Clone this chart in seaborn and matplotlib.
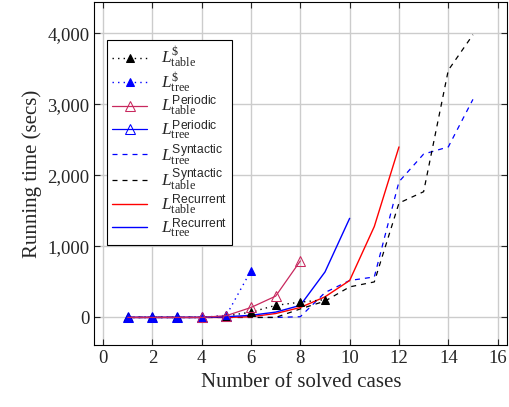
import matplotlib
matplotlib.use('Agg')
import matplotlib.pyplot as plt
import matplotlib.ticker as mticker
import seaborn as sns

# data
x_dollar_table = [1, 2, 3, 4, 5, 6, 7, 8, 9]
y_dollar_table = [0, 0, 0, 0, 20, 75, 170, 215, 250]

x_dollar_tree = [1, 2, 3, 4, 5, 6]
y_dollar_tree = [0, 0, 0, 0, 30, 660]

x_per_table = [1, 2, 3, 4, 5, 6, 7, 8]
y_per_table = [0, 0, 0, 0, 25, 140, 300, 795]

x_per_tree = [1, 2, 3, 4, 5]
y_per_tree = [0, 0, 0, 0, 15]

x_syn_tree = [1, 2, 3, 4, 5, 6, 7, 8, 9, 10, 11, 12, 13, 14, 15]
y_syn_tree = [0, 0, 0, 0, 0, 0, 0, 10, 350, 520, 570, 1910, 2300, 2400, 3070]

x_syn_table = [1, 2, 3, 4, 5, 6, 7, 8, 9, 10, 11, 12, 13, 14, 15]
y_syn_table = [0, 0, 0, 0, 0, 0, 0, 120, 230, 430, 500, 1610, 1770, 3480, 3980]

x_rec_table = [1, 2, 3, 4, 5, 6, 7, 8, 9, 10, 11, 12]
y_rec_table = [0, 0, 0, 0, 0, 10, 55, 140, 290, 520, 1280, 2400]

x_rec_tree = [1, 2, 3, 4, 5, 6, 7, 8, 9, 10]
y_rec_tree = [0, 0, 0, 0, 10, 30, 75, 170, 640, 1395]

sns.set_style('ticks')
plt.rcParams['font.family'] = ['Liberation Serif', 'DejaVu Serif']
plt.rcParams['mathtext.fontset'] = 'custom'
plt.rcParams['mathtext.rm'] = 'Liberation Serif'
plt.rcParams['mathtext.it'] = 'Liberation Serif:italic'
plt.rcParams['mathtext.sf'] = 'Liberation Sans'

fig = plt.figure(figsize=(5.09, 4.07), dpi=100)
ax = fig.add_axes([0.185, 0.152, 0.812, 0.843])

crimson = '#c8285e'
dot = (0, (1, 3))
dash = (0, (4, 4))

sns.lineplot(x=x_dollar_table, y=y_dollar_table, ax=ax, color='black', linestyle=dot,
             lw=1, marker='^', markersize=6, markeredgecolor='black', zorder=3,
             label=r'$L^{\$}_{\mathrm{table}}$')
sns.lineplot(x=x_dollar_tree, y=y_dollar_tree, ax=ax, color='blue', linestyle=dot,
             lw=1, marker='^', markersize=6, markeredgecolor='blue', zorder=3,
             label=r'$L^{\$}_{\mathrm{tree}}$')
sns.lineplot(x=x_per_table, y=y_per_table, ax=ax, color=crimson, lw=0.9,
             marker='^', markersize=7, markerfacecolor='none', markeredgecolor=crimson,
             markevery=[3, 4, 5, 6, 7], zorder=4,
             label=r'$L^{\mathsf{Periodic}}_{\mathrm{table}}$')
sns.lineplot(x=x_per_tree, y=y_per_tree, ax=ax, color='blue', lw=0.9,
             marker='^', markersize=7, markerfacecolor='none', markeredgecolor='blue',
             zorder=2,
             label=r'$L^{\mathsf{Periodic}}_{\mathrm{tree}}$')
sns.lineplot(x=x_syn_tree, y=y_syn_tree, ax=ax, color='blue', linestyle=dash, lw=0.9,
             label=r'$L^{\mathsf{Syntactic}}_{\mathrm{tree}}$')
sns.lineplot(x=x_syn_table, y=y_syn_table, ax=ax, color='black', linestyle=dash, lw=0.9,
             label=r'$L^{\mathsf{Syntactic}}_{\mathrm{table}}$')
sns.lineplot(x=x_rec_table, y=y_rec_table, ax=ax, color='red', lw=1,
             label=r'$L^{\mathsf{Recurrent}}_{\mathrm{table}}$')
sns.lineplot(x=x_rec_tree, y=y_rec_tree, ax=ax, color='blue', lw=1,
             label=r'$L^{\mathsf{Recurrent}}_{\mathrm{tree}}$')

ax.set_xlim(-0.36, 16.4)
ax.set_ylim(-390, 4440)
ax.set_xticks(range(0, 17, 2))
ax.set_yticks([0, 1000, 2000, 3000, 4000])
ax.yaxis.set_major_formatter(mticker.StrMethodFormatter('{x:,.0f}'))
ax.grid(True, color='#cccccc', lw=1)
ax.set_axisbelow(True)
ax.tick_params(direction='in', top=True, right=True, length=4, labelsize=13.5, width=0.8)
for s in ax.spines.values():
    s.set_linewidth(0.8)
    s.set_color('black')

ax.set_xlabel('Number of solved cases', fontsize=15)
ax.set_ylabel('Running time (secs)', fontsize=15)

leg = ax.legend(loc='upper left', bbox_to_anchor=(0.031, 0.889), fontsize=12.5,
                frameon=True, fancybox=False, edgecolor='black', framealpha=1,
                borderaxespad=0, handlelength=2.0, handletextpad=0.8,
                labelspacing=0.0, borderpad=0.3)
leg.get_frame().set_linewidth(0.8)

fig.savefig('out.png', dpi=100)
